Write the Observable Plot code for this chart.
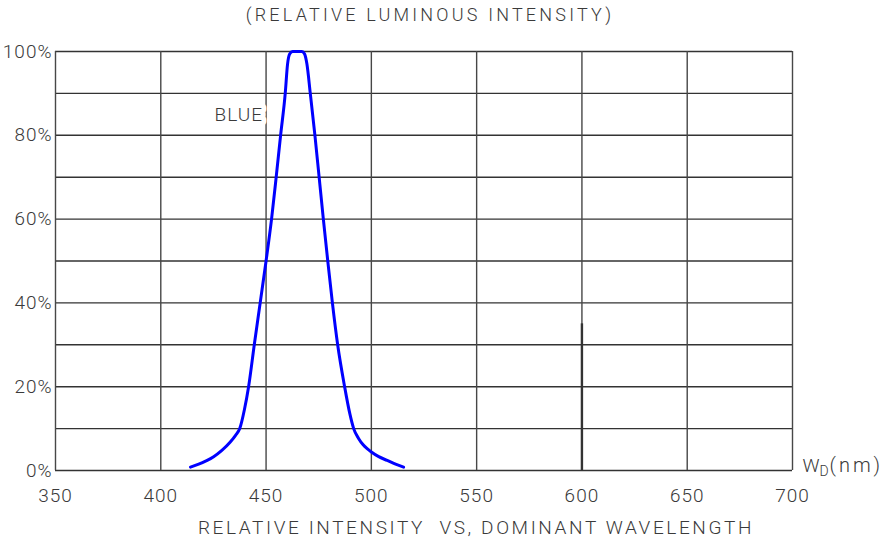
<!DOCTYPE html>
<html><head><meta charset="utf-8">
<script src="https://cdn.jsdelivr.net/npm/d3@7"></script>
<script src="https://cdn.jsdelivr.net/npm/@observablehq/plot@0.6"></script>
<style>body{margin:0;background:#fff} svg{display:block} svg text{white-space:pre}</style>
</head><body><div id="chart"></div>
<script>
// Blue LED relative luminous intensity vs dominant wavelength
const wavelength = [414.1, 418, 421.5, 425.1, 429, 433, 435.5, 437.5, 439.7, 441.7, 444.4, 447.2, 450.0, 452.6, 454.8, 456.9, 459.1, 460.2, 461.2, 462.6, 465, 467, 468.3, 469.4, 471, 473.2, 475.2, 477.2, 479.3, 481.5, 484.0, 487.3, 489.8, 491.6, 494, 496, 498, 500, 503.5, 507.5, 511.5, 515.3];
const intensity  = [0.8, 1.5, 2.3, 3.3, 4.8, 6.8, 8.4, 10, 14.5, 20, 30, 40, 50, 60, 70, 80, 90, 97, 99.4, 100, 100, 100, 99.4, 97, 90, 80, 70, 60, 50, 40, 30, 20, 13.5, 10, 7.6, 6.2, 5.2, 4.4, 3.3, 2.4, 1.5, 0.8];
const xTicks = [350, 400, 450, 500, 550, 600, 650, 700];
const yTicks = [0, 20, 40, 60, 80, 100];
const yGrid = [0, 10, 20, 30, 40, 50, 60, 70, 80, 90, 100];
const seriesLabel = ["BLUE"];
const labelAt = {x: 450, y: 85};
const markerX = [600];
const markerTop = 35;
const title = "(RELATIVE LUMINOUS INTENSITY)";
const xTitle = "RELATIVE INTENSITY  VS, DOMINANT WAVELENGTH";
const unitMain = "W", unitSub = "D", unitTail = "(nm)";

const data = wavelength.map((w, i) => ({w, v: intensity[i]}));
const font = "Roboto, 'DejaVu Sans', sans-serif";
const ink = "#3a3a3a";

const chart = Plot.plot({
  width: 894, height: 542,
  marginLeft: 55, marginRight: 102, marginTop: 51, marginBottom: 72,
  x: {domain: [350, 700], label: null},
  y: {domain: [0, 100], label: null},
  style: {fontFamily: font, fontSize: "19px", fontWeight: 300, color: ink, background: "#fff", letterSpacing: "1px"},
  marks: [
    Plot.ruleY(yGrid, {stroke: "#333", strokeWidth: 1.4}),
    Plot.ruleX(xTicks, {stroke: "#474747", strokeWidth: 1.4}),
    Plot.ruleX(markerX, {y1: 0, y2: markerTop, stroke: "#333", strokeWidth: 2.4}),
    Plot.text(seriesLabel, {x: () => labelAt.x, y: () => labelAt.y, text: d => d, textAnchor: "end", dx: -3, dy: 1,
      fill: ink, stroke: "#fff", strokeWidth: 10, paintOrder: "stroke", fontSize: 19}),
    Plot.line(data, {x: "w", y: "v", stroke: "#0000ff", strokeWidth: 3, curve: "monotone-x", strokeLinecap: "round"}),
    Plot.axisX(xTicks, {tickSize: 0, tickPadding: 17.5, fontSize: 19, fill: ink}),
    Plot.axisY(yTicks, {tickSize: 0, tickPadding: 3, tickFormat: d => d + "%", fontSize: 19, fill: ink}),
    Plot.text([title], {frameAnchor: "top", lineAnchor: "middle", dy: -36, dx: 6, text: d => d, fontSize: 18, fill: ink}),
    Plot.text([xTitle], {frameAnchor: "bottom", lineAnchor: "middle", dy: 57, dx: 52, text: d => d, fontSize: 19, fill: ink}),
    Plot.text([unitMain], {frameAnchor: "bottom-right", lineAnchor: "middle", textAnchor: "start", dx: 10, dy: -5, text: d => d, fontSize: 19, fill: ink}),
    Plot.text([unitSub], {frameAnchor: "bottom-right", lineAnchor: "middle", textAnchor: "start", dx: 27, dy: 1, text: d => d, fontSize: 14, fill: ink}),
    Plot.text([unitTail], {frameAnchor: "bottom-right", lineAnchor: "middle", textAnchor: "start", dx: 37, dy: -5, text: d => d, fontSize: 20, fill: ink})
  ]
});
const svg = d3.select(chart);
const spacing = {[title]: "3.2px", [xTitle]: "2.6px", [unitTail]: "3px"};
svg.selectAll("text").each(function() {
  const s = spacing[this.textContent];
  if (s) d3.select(this).style("letter-spacing", s);
});
document.getElementById("chart").append(chart);
</script>
</body></html>
